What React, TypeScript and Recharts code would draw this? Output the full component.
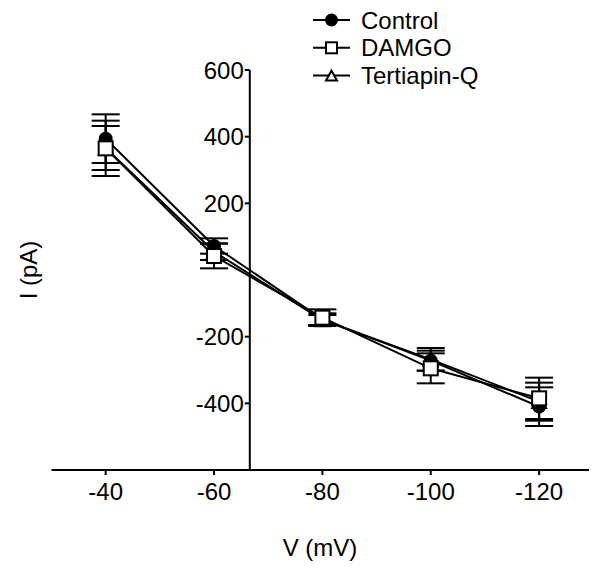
import React from 'react'
import { LineChart, Line, XAxis, YAxis, ErrorBar, ReferenceLine } from 'recharts'

// membrane voltage steps (mV)
const voltages = [-40, -60, -80, -100, -120]

// current (pA) mean and sem per condition
const control = [394, 72, -148, -272, -410]
const controlSem = [73, 23, 18, 30, 58]
const damgo = [365, 42, -143, -295, -385]
const damgoSem = [83, 37, 25, 45, 62]
const tertiapin = [366, 55, -150, -268, -395]
const tertiapinSem = [66, 25, 15, 34, 57]

const xTicks = [-40, -60, -80, -100, -120]
const yTicks = [600, 400, 200, -200, -400]
const xDomain = [-130, -30]
const yDomain = [-600, 600]
const yAxisAt = -66.6

const data = voltages.map((v, i) => ({
  v,
  control: control[i],
  controlErr: controlSem[i],
  damgo: damgo[i],
  damgoErr: damgoSem[i],
  tertiapin: tertiapin[i],
  tertiapinErr: tertiapinSem[i],
}))

const W = 589
const H = 559
const yAxisW = 1
const margin = { top: 62, right: 3.7, bottom: 67, left: 42.5 }
const plotLeft = margin.left + yAxisW
const plotWidth = W - plotLeft - margin.right
const yAxisPx = plotLeft + ((xDomain[1] - yAxisAt) / (xDomain[1] - xDomain[0])) * plotWidth
const font = '"Liberation Sans", Arial, sans-serif'
const fs = 24

const Marker = ({ shape, cx, cy, s }: { shape: string; cx: number; cy: number; s: number }) => {
  if (shape === 'circle') return <circle cx={cx} cy={cy} r={s / 2} fill="#000" />
  if (shape === 'square')
    return <rect x={cx - s / 2} y={cy - s / 2} width={s} height={s} fill="#fff" stroke="#000" strokeWidth={2} />
  const h = s * 0.9
  return (
    <polygon
      points={`${cx},${cy - h / 2} ${cx + s / 2},${cy + h / 2} ${cx - s / 2},${cy + h / 2}`}
      fill="#fff"
      stroke="#000"
      strokeWidth={2}
    />
  )
}

const dotFor = (shape: string) => (p: any) =>
  <Marker key={`${shape}-${p.index}`} shape={shape} cx={p.cx} cy={p.cy} s={14} />

const legendItems = [
  { name: 'Control', shape: 'circle' },
  { name: 'DAMGO', shape: 'square' },
  { name: 'Tertiapin-Q', shape: 'triangle' },
]

const XTick = ({ x, y, payload }: any) => (
  <text x={x} y={y + 23} textAnchor="middle" fontSize={fs} fontFamily={font} fill="#000">
    {payload.value}
  </text>
)

const YTick = ({ y, payload }: any) => (
  <g>
    <line x1={yAxisPx - 5} x2={yAxisPx} y1={y} y2={y} stroke="#000" strokeWidth={2} />
    <text x={yAxisPx - 6} y={y + 8.5} textAnchor="end" fontSize={fs} fontFamily={font} fill="#000">
      {payload.value}
    </text>
  </g>
)

export default function App() {
  return (
    <div style={{ width: W, height: H, background: '#fff' }}>
      <LineChart width={W} height={H} data={data} margin={margin}>
        <XAxis
          type="number"
          dataKey="v"
          domain={xDomain}
          reversed
          ticks={xTicks}
          tickSize={5}
          tick={XTick}
          axisLine={{ stroke: '#000', strokeWidth: 2 }}
          tickLine={{ stroke: '#000', strokeWidth: 2 }}
          height={30}
        />
        <YAxis
          type="number"
          domain={yDomain}
          ticks={yTicks}
          interval={0}
          width={yAxisW}
          axisLine={false}
          tickLine={false}
          tick={YTick}
        />
        <ReferenceLine x={yAxisAt} stroke="#000" strokeWidth={2} />

        <Line dataKey="tertiapin" stroke="#000" strokeWidth={2} dot={dotFor('triangle')} isAnimationActive={false}>
          <ErrorBar dataKey="tertiapinErr" direction="y" width={14} stroke="#000" strokeWidth={2} />
        </Line>
        <Line dataKey="control" stroke="#000" strokeWidth={2} dot={dotFor('circle')} isAnimationActive={false}>
          <ErrorBar dataKey="controlErr" direction="y" width={14} stroke="#000" strokeWidth={2} />
        </Line>
        <Line dataKey="damgo" stroke="#000" strokeWidth={2} dot={dotFor('square')} isAnimationActive={false}>
          <ErrorBar dataKey="damgoErr" direction="y" width={14} stroke="#000" strokeWidth={2} />
        </Line>

        {legendItems.map((it, i) => {
          const y = 12 + i * 27.8
          return (
            <g key={it.name}>
              <line x1={305} x2={342} y1={y} y2={y} stroke="#000" strokeWidth={2} />
              <Marker shape={it.shape} cx={323.5} cy={y} s={it.shape === 'circle' ? 13 : 11} />
              <text x={353} y={y + 8.5} fontSize={fs} fontFamily={font} fill="#000">
                {it.name}
              </text>
            </g>
          )
        })}

        <text x={312} y={548} textAnchor="middle" fontSize={fs} fontFamily={font} fill="#000">
          V (mV)
        </text>
        <text
          x={20}
          y={271}
          textAnchor="middle"
          fontSize={fs}
          fontFamily={font}
          fill="#000"
          transform="rotate(-90, 20, 262)"
        >
          I (pA)
        </text>
      </LineChart>
    </div>
  )
}
